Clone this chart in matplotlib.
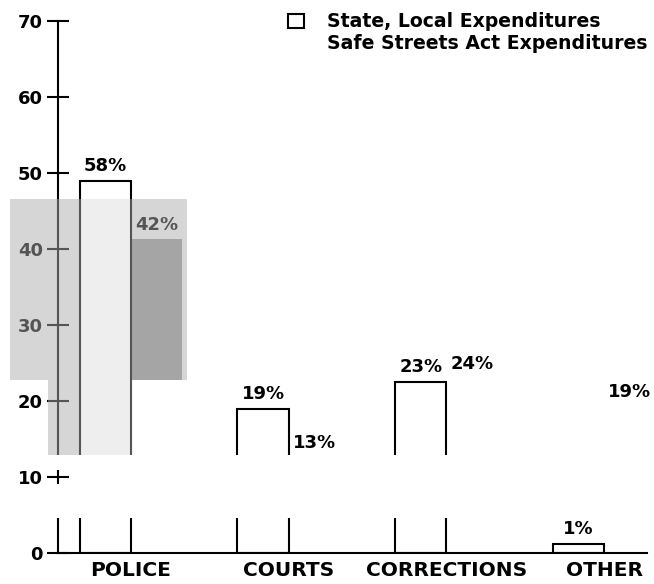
import matplotlib.pyplot as plt
from matplotlib.patches import Rectangle, Patch

# Datos
categorias = ['POLICE', 'COURTS', 'CORRECTIONS', 'OTHER']
series = ['State, Local Expenditures', 'Safe Streets Act Expenditures']
altura_estatal = [49, 19, 22.5, 1.2]
altura_safe = [41.3, 12.6, 23, 19.3]
etiqueta_estatal = ['58%', '19%', '23%', '1%']
etiqueta_safe = ['42%', '13%', '24%', '19%']
yticks = [0, 10, 20, 30, 40, 50, 60, 70]

plt.rcParams['font.family'] = 'DejaVu Sans'
plt.rcParams['font.weight'] = 'bold'

fig = plt.figure(figsize=(6.54, 5.84), dpi=100)
ax = fig.add_axes([58 / 654, 31 / 584, 589 / 654, 532 / 584])

x = list(range(len(categorias)))
ancho = 0.325

# Barras estatales (blancas con borde negro)
ax.bar([i - ancho / 2 for i in x], altura_estatal, ancho, color='white',
       edgecolor='black', linewidth=1.5, zorder=2)

# Zona gris del escaneo (fondo)
zona_sup = Rectangle((-0.767, 22.8), 1.122, 23.8, facecolor='#d6d6d6',
                     edgecolor='none', zorder=0.1, clip_on=False)
zona_inf = Rectangle((-0.526, 12.9), 0.532, 9.9, facecolor='#d6d6d6',
                     edgecolor='none', zorder=0.1, clip_on=False)
ax.add_patch(zona_sup)
ax.add_patch(zona_inf)

# Barras Safe Streets: solo se ven dentro de la zona gris
barras_safe = ax.bar([i + ancho / 2 for i in x], altura_safe, ancho,
                     color='#858585', linewidth=0, zorder=1.5)
for b in barras_safe:
    b.set_clip_path(zona_sup)

# Etiquetas de porcentaje
for i in x:
    ax.annotate(etiqueta_estatal[i], (i - ancho / 2, altura_estatal[i]),
                xytext=(0, 4), textcoords='offset points', ha='center',
                va='bottom', fontsize=13, fontweight='bold')
    ax.annotate(etiqueta_safe[i], (i + ancho / 2, altura_safe[i]),
                xytext=(0, 4), textcoords='offset points', ha='center',
                va='bottom', fontsize=13, fontweight='bold')

# Configurar los ejes
ax.set_xlim(-0.463, 3.272)
ax.set_ylim(0, 70)
ax.set_yticks(yticks)
ax.set_yticklabels([str(t) for t in yticks], fontweight='bold')
ax.set_xticks(x)
ax.set_xticklabels(categorias, fontsize=14.5, fontweight='bold')
ax.tick_params(axis='y', direction='inout', length=16, width=1.5,
               pad=3, labelsize=13)
ax.tick_params(axis='x', length=0, pad=6)
ax.spines['top'].set_visible(False)
ax.spines['right'].set_visible(False)
ax.spines['left'].set_linewidth(1.5)
ax.spines['bottom'].set_linewidth(1.5)

# Velo gris encima (apaga el contraste dentro de la zona)
for r in (zona_sup, zona_inf):
    ax.add_patch(Rectangle(r.get_xy(), r.get_width(), r.get_height(),
                           facecolor='#d6d6d6', edgecolor='none', alpha=0.4,
                           zorder=10, clip_on=False))

# Franja blanca borrada del escaneo (deja el "+" del 10)
for (x0, y0, w, h) in [(-0.9, 10.9, 4.3, 2.0), (-0.9, 4.6, 4.3, 4.5),
                       (-0.374, 9.0, 3.8, 2.0)]:
    ax.add_patch(Rectangle((x0, y0), w, h, facecolor='white',
                           edgecolor='none', zorder=11, clip_on=False))

# Leyenda
manejadores = [Patch(facecolor='white', edgecolor='black', linewidth=1.5),
               Patch(facecolor='none', edgecolor='none')]
ax.legend(manejadores, series, loc='upper left',
          bbox_to_anchor=(279 / 654, 1 - 3 / 584),
          bbox_transform=fig.transFigure, frameon=False, borderpad=0,
          handlelength=0.8, handleheight=0.8, handletextpad=1.25,
          labelspacing=0.15, prop={'weight': 'bold', 'size': 13.6})

plt.savefig('out.png', dpi=100)
